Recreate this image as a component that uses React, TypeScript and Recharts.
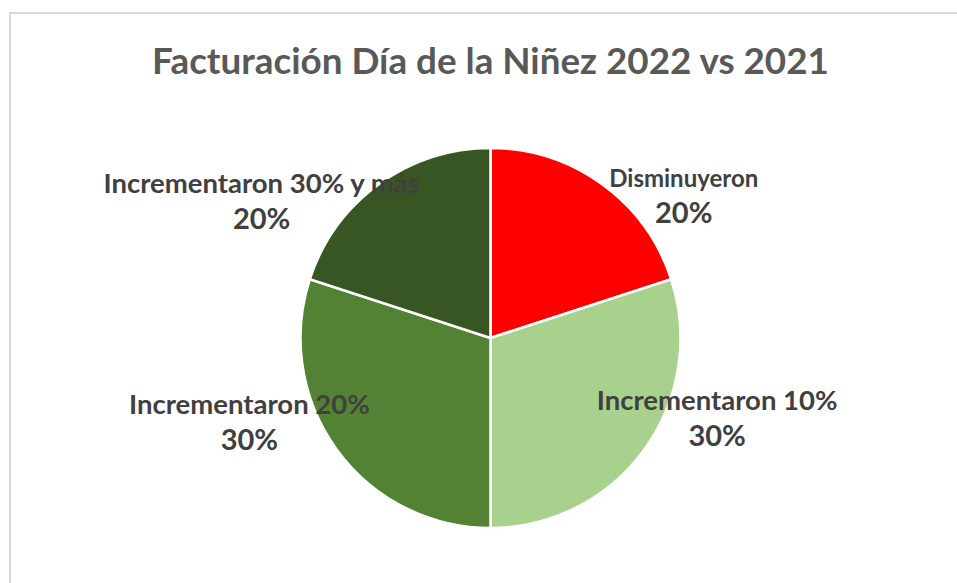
import React from 'react';
import { PieChart, Pie, Cell } from 'recharts';

const categories = ['Disminuyeron', 'Incrementaron 10%', 'Incrementaron 20%', 'Incrementaron 30% y más'];
const shares = [20, 30, 30, 20];
const colors = ['#FF0000', '#A9D18E', '#548235', '#375623'];

// where Excel put each data label (angle in degrees, distance from centre)
const labelPlacement = [
    { angle: 36.7, dist: 241, nameSize: 24 },
    { angle: -19.2, dist: 240, nameSize: 27.5 },
    { angle: 199, dist: 255, nameSize: 27.5 },
    { angle: 149, dist: 267, nameSize: 27.5 },
];

const data = categories.map((name, i) => ({ name, value: shares[i] }));
const total = shares.reduce((a, b) => a + b, 0);

const FONT = 'Lato, "Open Sans", sans-serif';

const renderLabel = (props: any) => {
    const { cx, cy, index, value } = props;
    const p = labelPlacement[index];
    const rad = (p.angle * Math.PI) / 180;
    const x = cx + p.dist * Math.cos(rad);
    const y = cy - p.dist * Math.sin(rad);
    const pct = Math.round((value / total) * 100) + '%';
    return (
        <text x={x} y={y} textAnchor="middle" fill="#404040" fontFamily={FONT} fontWeight="bold">
            <tspan x={x} dy={-7} fontSize={p.nameSize}>{categories[index]}</tspan>
            <tspan x={x} dy={36} fontSize={29}>{pct}</tspan>
        </text>
    );
};

export default function App() {
    return (
        <div style={{ position: 'absolute', left: 0, top: 0, width: 957, height: 583, background: '#fff', overflow: 'hidden', fontFamily: FONT }}>
            <div style={{ position: 'absolute', left: 9, top: 12, width: 1000, height: 700, border: '2px solid #d9d9d9' }} />
            <div style={{ position: 'absolute', left: 0, top: 37, width: 981, textAlign: 'center', fontSize: 36.8, fontWeight: 'bold', color: '#595959', lineHeight: '46px' }}>
                Facturación Día de la Niñez 2022 vs 2021
            </div>
            <div style={{ position: 'absolute', left: 0, top: 0 }}>
                <PieChart width={957} height={583} margin={{ top: 0, right: 0, bottom: 0, left: 0 }}>
                    <Pie
                        data={data}
                        dataKey="value"
                        nameKey="name"
                        cx={490.5}
                        cy={338}
                        outerRadius={190}
                        startAngle={90}
                        endAngle={-270}
                        stroke="#ffffff"
                        strokeWidth={2.5}
                        label={renderLabel}
                        labelLine={false}
                        isAnimationActive={false}
                    >
                        {data.map((d, i) => (
                            <Cell key={d.name} fill={colors[i]} />
                        ))}
                    </Pie>
                </PieChart>
            </div>
        </div>
    );
}
